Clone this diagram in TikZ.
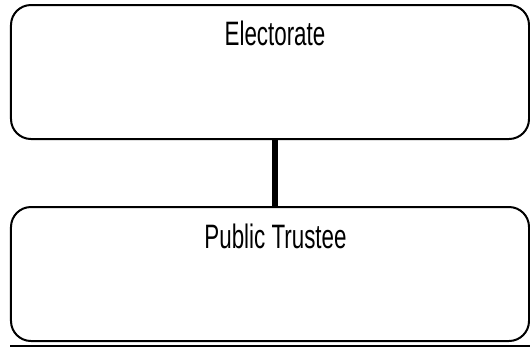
\documentclass[tikz,border=0pt]{standalone}
\usepackage{fontspec}
\newfontfamily\narrowfont[FakeStretch=0.66]{Liberation Sans}
\usetikzlibrary{positioning}
\tikzset{
  orgbox/.style={draw,line width=2bp,rounded corners=20bp,minimum width=518bp,minimum height=134bp,inner sep=0pt},
  boxtext/.style={font=\narrowfont\fontsize{34}{34}\selectfont,inner sep=0pt,anchor=base}
}
\begin{document}
\begin{tikzpicture}[x=1bp,y=-1bp]
  \useasboundingbox (0,0) rectangle (530,348);
  \node[orgbox] (elect) at (270,72) {};
  \node[orgbox] (trust) at (270,274) {};
  \node[boxtext] (electtxt) at (275,45) {Electorate};
  \node[boxtext] (trusttxt) at (275.5,248) {Public Trustee};
  % link between the two boxes
  \draw[line width=6bp] ([xshift=5bp]elect.south) -- ([xshift=5bp]trust.north);
  \draw[line width=2.5bp] (10,346) -- (530,346);
\end{tikzpicture}
\end{document}
